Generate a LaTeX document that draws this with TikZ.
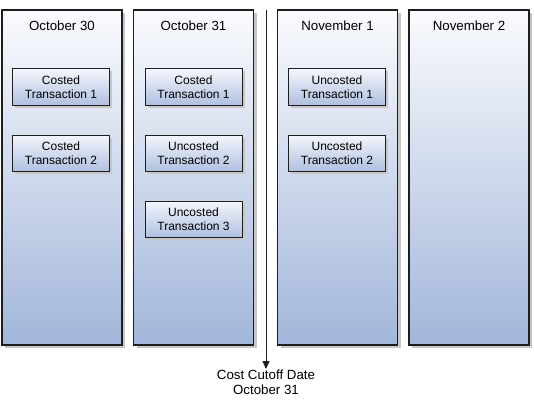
\documentclass[tikz,border=0pt]{standalone}
\usepackage{fontspec}
\setmainfont{Liberation Sans}
\usetikzlibrary{arrows.meta, positioning, shadows}
\definecolor{columntop}{RGB}{250,251,254}
\definecolor{columnbottom}{RGB}{162,182,218}
\definecolor{boxtop}{RGB}{244,246,251}
\definecolor{boxbottom}{RGB}{176,192,225}
\definecolor{edgecolor}{RGB}{30,30,30}

\begin{document}
\begin{tikzpicture}[
    x=1pt, y=-1pt,
    daycolumn/.style={draw=edgecolor, line width=1.1pt, top color=columntop, bottom color=columnbottom, minimum width=120pt, minimum height=335pt, inner sep=0pt,
        drop shadow={shadow xshift=3pt, shadow yshift=-3pt, fill=black!22, opacity=1}},
    txnbox/.style={draw=edgecolor, line width=1pt, top color=boxtop, bottom color=boxbottom, minimum width=97pt, minimum height=36pt, align=center, inner sep=0pt,
        font=\fontsize{12}{13.5}\selectfont,
        drop shadow={shadow xshift=2.5pt, shadow yshift=-2.5pt, fill=black!22, opacity=1}},
    daytitle/.style={font=\fontsize{13.3}{15}\selectfont},
    arrow/.style={-{Triangle[length=8pt, width=7pt]}, line width=1pt, edgecolor}
]
    \useasboundingbox (0,0) rectangle (534,401);

    % Day columns
    \node[daycolumn] (oct30) at (62,177.5) {};
    \node[daycolumn] (oct31) at (193.5,177.5) {};
    \node[daycolumn] (nov1) at (337.5,177.5) {};
    \node[daycolumn] (nov2) at (469,177.5) {};

    % Column titles
    \node[daytitle] (oct30title) at (62,26) {October 30};
    \node[daytitle] (oct31title) at (193.5,26) {October 31};
    \node[daytitle] (nov1title) at (337.5,26) {November 1};
    \node[daytitle] (nov2title) at (469,26) {November 2};

    % Transactions
    \node[txnbox] (oct30a) at (61,87) {Costed\\Transaction 1};
    \node[txnbox] (oct30b) at (61,153) {Costed\\Transaction 2};
    \node[txnbox] (oct31a) at (193.5,87) {Costed\\Transaction 1};
    \node[txnbox] (oct31b) at (193.5,153) {Uncosted\\Transaction 2};
    \node[txnbox] (oct31c) at (193.5,219) {Uncosted\\Transaction 3};
    \node[txnbox] (nov1a) at (337,87) {Uncosted\\Transaction 1};
    \node[txnbox] (nov1b) at (337,153) {Uncosted\\Transaction 2};

    % Cutoff
    \coordinate (cutofftop) at (266,10);
    \node[daytitle, align=center, anchor=north, inner sep=1pt] (cutoff) at (266,369) {Cost Cutoff Date\\October 31};
    \draw[arrow] (cutofftop) -- (cutoff.north);
\end{tikzpicture}
\end{document}
